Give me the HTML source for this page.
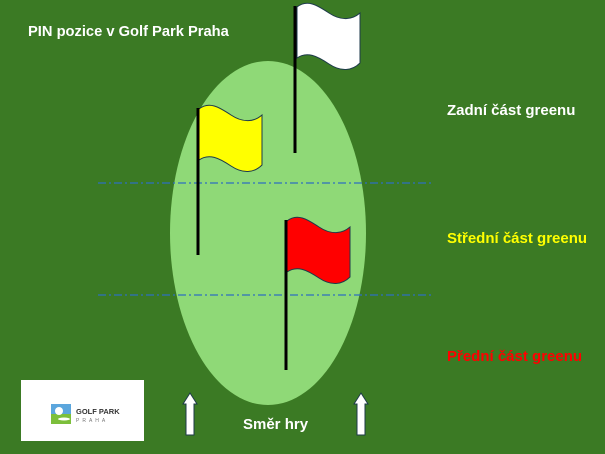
<!DOCTYPE html>
<html><head><meta charset="utf-8"><style>
body{margin:0;width:605px;height:454px;overflow:hidden;background:#3b7a24;font-family:"Liberation Sans",sans-serif}
</style></head><body>
<svg width="605" height="454" xmlns="http://www.w3.org/2000/svg" style="position:absolute;left:0;top:0">
<rect width="605" height="454" fill="#3b7a24"/>
<ellipse cx="268" cy="233" rx="98" ry="172" fill="#8fd977"/>
<line x1="98" y1="183" x2="432" y2="183" stroke="#2e6fbf" stroke-width="1.3" stroke-dasharray="8,3,2,3"/>
<line x1="98" y1="295" x2="432" y2="295" stroke="#2e6fbf" stroke-width="1.3" stroke-dasharray="8,3,2,3"/>
<defs><path id="fl" d="M0,4 C10,-4 20,2 32,10 C44,18 55,17 63,10 L63,60 C55,68 44,69 32,61 C20,53 10,48 0,55 Z" stroke="#1d3a4a" stroke-width="1"/></defs>
<use href="#fl" x="297" y="3" fill="#fff"/>
<rect x="293.5" y="6" width="3" height="147" fill="#000"/>
<use href="#fl" x="199" y="105" fill="#ffff00"/>
<rect x="196.5" y="108" width="3" height="147" fill="#000"/>
<use href="#fl" x="287" y="217" fill="#ff0000"/>
<rect x="284.5" y="220" width="3" height="150" fill="#000"/>
<g fill="#fff" stroke="#1d3a4a" stroke-width="1">
<path d="M186,435 V404 H183 L190,393 L197,404 H194 V435 Z"/>
<path d="M357,435 V404 H354 L361,393 L368,404 H365 V435 Z"/>
</g>
<rect x="21" y="380" width="123" height="61" fill="#fff"/>
<rect x="51" y="404" width="20" height="10" fill="#5ba6dd"/>
<rect x="51" y="414" width="20" height="10" fill="#7cbf3b"/>
<circle cx="59" cy="411" r="4" fill="#fff"/>
<ellipse cx="64" cy="419" rx="6" ry="1.5" fill="#fff"/>
<text x="76" y="414" font-size="7.5" font-weight="bold" fill="#333">GOLF PARK</text>
<text x="76" y="422" font-size="5" fill="#777" letter-spacing="3">PRAHA</text>
<g font-weight="bold" font-size="15">
<text x="28" y="36" fill="#fff" font-size="14.7">PIN pozice v Golf Park Praha</text>
<text x="447" y="115" fill="#fff">Zadní část greenu</text>
<text x="447" y="243" fill="#ffff00">Střední část greenu</text>
<text x="447" y="361" fill="#ff0000">Přední část greenu</text>
<text x="243" y="429" fill="#fff">Směr hry</text>
</g>
</svg>
</body></html>
